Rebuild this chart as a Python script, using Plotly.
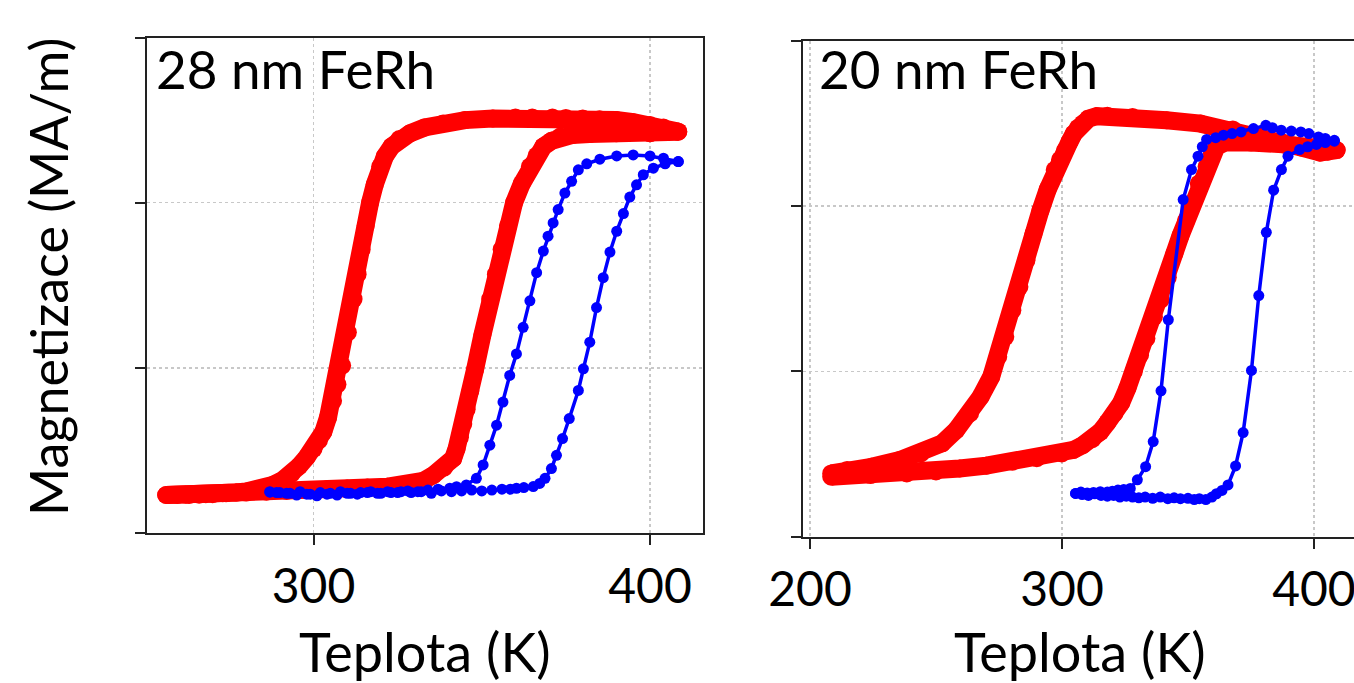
import plotly.graph_objects as go

# ---------------- data ----------------
# 28 nm FeRh, red (dense measurement)
t28_red_cool = [408.4, 404.0, 400.0, 395.0, 390.0, 385.0, 380.0, 375.0, 371.0, 365.0, 360.0, 353.3,
                345.0, 338.5, 333.0, 328.7, 325.5, 323.2, 321.2, 319.8, 318.2, 316.8, 315.5, 314.3,
                313.1, 311.9, 310.2, 308.5, 307.1, 305.8, 304.3, 302.9, 301.6, 300.0, 298.0, 295.7,
                293.5, 290.8, 288.1, 285.5, 283.0, 280.0, 277.0, 273.0, 270.0, 266.0, 263.0, 259.5,
                256.2]
m28_red_cool = [2.43, 2.455, 2.47, 2.487, 2.50, 2.505, 2.51, 2.513, 2.515, 2.516, 2.515, 2.51,
                2.50, 2.48, 2.455, 2.42, 2.385, 2.34, 2.28, 2.219, 2.11, 2.0, 1.86, 1.717,
                1.567, 1.416, 1.215, 1.014, 0.90, 0.80, 0.70, 0.612, 0.56, 0.51, 0.46, 0.405,
                0.36, 0.32, 0.293, 0.272, 0.26, 0.252, 0.245, 0.24, 0.235, 0.232, 0.23, 0.23,
                0.23]
t28_red_heat = [256.2, 262.0, 268.0, 274.0, 280.0, 286.0, 292.0, 298.0, 304.0, 310.0, 316.0, 322.0,
                326.0, 328.7, 332.5, 335.6, 338.8, 341.5, 342.5, 343.5, 344.5, 345.5, 346.6, 348.0,
                350.2, 352.5, 354.2, 355.9, 357.8, 359.6, 361.9, 364.3, 366.3, 368.3, 370.8, 373.3,
                377.0, 382.0, 390.0, 400.0, 408.4]
m28_red_heat = [0.23, 0.232, 0.235, 0.24, 0.245, 0.25, 0.255, 0.26, 0.265, 0.27, 0.275, 0.28,
                0.285, 0.29, 0.315, 0.351, 0.395, 0.452, 0.51, 0.58, 0.66, 0.75, 0.86, 0.99,
                1.2, 1.416, 1.567, 1.717, 1.86, 2.0, 2.115, 2.219, 2.285, 2.34, 2.375, 2.40,
                2.41, 2.415, 2.42, 2.42, 2.43]

# 28 nm FeRh, blue (marker + line)
t28_blue_heat = [287.0, 290.0, 293.0, 296.0, 299.0, 302.0, 305.0, 308.0, 311.0, 314.0, 317.0, 320.0,
                 323.0, 326.0, 329.0, 332.0, 335.0, 338.0, 341.0, 344.0, 347.0, 350.0, 353.0, 356.0,
                 358.5, 360.3, 362.5, 365.3, 367.2, 368.8, 370.7, 372.2, 374.0, 376.0, 378.7, 380.2,
                 382.1, 384.1, 386.1, 388.1, 390.1, 392.1, 394.0, 396.0, 398.0, 401.0, 404.5, 408.4]
m28_blue_heat = [0.25, 0.245, 0.24, 0.25, 0.235, 0.245, 0.24, 0.25, 0.24, 0.245, 0.25, 0.24,
                 0.245, 0.25, 0.245, 0.25, 0.24, 0.255, 0.25, 0.255, 0.26, 0.255, 0.26, 0.265,
                 0.265, 0.271, 0.275, 0.281, 0.30, 0.331, 0.39, 0.47, 0.572, 0.693, 0.863, 0.994,
                 1.155, 1.365, 1.546, 1.701, 1.827, 1.934, 2.034, 2.108, 2.169, 2.209, 2.235, 2.249]
t28_blue_cool = [408.4, 404.0, 400.0, 395.0, 390.1, 385.1, 381.2, 378.7, 376.7, 374.7, 372.7, 371.2,
                 369.7, 368.3, 366.3, 364.3, 362.3, 360.3, 358.3, 356.3, 354.4, 352.4, 350.4, 348.4,
                 345.4, 342.5, 340.5, 337.0, 334.0, 331.0, 328.0, 325.0, 322.0, 319.0, 316.0, 313.0,
                 310.0, 307.0, 304.0, 301.0, 298.0, 295.0, 292.0, 289.0, 287.0]
m28_blue_cool = [2.249, 2.269, 2.283, 2.289, 2.283, 2.263, 2.235, 2.199, 2.129, 2.058, 1.958, 1.877,
                 1.797, 1.707, 1.576, 1.406, 1.245, 1.084, 0.954, 0.793, 0.653, 0.532, 0.412, 0.331,
                 0.291, 0.28, 0.271, 0.265, 0.26, 0.25, 0.255, 0.245, 0.25, 0.24, 0.245, 0.235,
                 0.24, 0.23, 0.235, 0.225, 0.235, 0.23, 0.24, 0.245, 0.247]

# 20 nm FeRh, red
t20_red_cool = [409.0, 405.5, 402.5, 395.0, 387.6, 378.1, 367.8, 355.0, 341.5, 328.0, 318.0, 313.8,
                310.5, 308.2, 306.3, 304.7, 303.0, 301.3, 299.2, 297.1, 294.3, 291.5, 288.7, 285.9,
                283.1, 280.3, 277.5, 274.7, 271.9, 267.7, 263.5, 258.0, 252.4, 244.0, 235.6, 224.4,
                214.7, 208.4]
m20_red_cool = [2.34, 2.33, 2.325, 2.355, 2.386, 2.43, 2.465, 2.50, 2.52, 2.54, 2.548, 2.545,
                2.53, 2.50, 2.475, 2.44, 2.39, 2.34, 2.28, 2.22, 2.10, 1.976, 1.835, 1.673,
                1.512, 1.371, 1.21, 1.089, 0.968, 0.847, 0.746, 0.645, 0.565, 0.504, 0.464, 0.423,
                0.403, 0.383]
t20_red_heat = [208.4, 224.0, 238.4, 250.0, 259.4, 270.0, 280.3, 290.0, 299.9, 304.5, 308.2, 312.0,
                315.2, 318.0, 320.8, 323.5, 326.0, 328.5, 331.0, 333.5, 336.5, 339.2, 342.0, 344.6,
                347.0, 349.3, 351.4, 354.3, 357.4, 359.5, 361.3, 364.5, 368.0, 375.0, 387.6, 400.0,
                409.0]
m20_red_heat = [0.363, 0.373, 0.383, 0.395, 0.413, 0.43, 0.454, 0.475, 0.504, 0.525, 0.554, 0.59,
                0.635, 0.69, 0.746, 0.81, 0.90, 1.0, 1.10, 1.20, 1.331, 1.434, 1.57, 1.714,
                1.82, 1.915, 2.0, 2.137, 2.24, 2.32, 2.36, 2.385, 2.39, 2.385, 2.375, 2.355,
                2.34]

# 20 nm FeRh, blue
t20_blue_cool = [408.1, 404.5, 401.8, 398.0, 394.8, 391.0, 387.0, 383.5, 380.9, 376.0, 371.1, 367.5,
                 364.1, 361.0, 357.4, 355.7, 354.0, 351.4, 348.1, 342.2, 339.3, 336.2, 333.2, 329.9,
                 327.1, 324.5, 322.2, 320.0, 318.0, 315.2, 312.5, 310.0, 307.5, 305.4]
m20_blue_cool = [2.399, 2.41, 2.419, 2.44, 2.45, 2.455, 2.46, 2.475, 2.49, 2.47, 2.45, 2.44,
                 2.43, 2.415, 2.404, 2.36, 2.303, 2.222, 2.04, 1.313, 0.883, 0.576, 0.424, 0.344,
                 0.292, 0.285, 0.282, 0.275, 0.27, 0.272, 0.268, 0.265, 0.27, 0.262]
t20_blue_heat = [305.4, 308.0, 310.5, 313.0, 315.5, 318.0, 320.5, 323.0, 325.5, 328.0, 330.5, 333.0,
                 336.0, 339.0, 342.0, 344.5, 347.0, 350.0, 352.5, 354.5, 357.1, 359.5, 361.3, 363.5,
                 365.9, 368.9, 371.9, 375.2, 378.1, 381.1, 384.0, 387.1, 389.7, 394.3, 397.5, 401.0,
                 404.5, 408.1]
m20_blue_heat = [0.262, 0.255, 0.25, 0.26, 0.25, 0.245, 0.25, 0.24, 0.245, 0.24, 0.235, 0.24,
                 0.232, 0.24, 0.23, 0.235, 0.23, 0.232, 0.225, 0.23, 0.225, 0.24, 0.26, 0.28,
                 0.313, 0.428, 0.63, 1.006, 1.459, 1.842, 2.097, 2.222, 2.303, 2.343, 2.36, 2.374,
                 2.385, 2.394]

x_ticks_28 = [300, 400]
x_ticks_20 = [200, 300, 400]
y_ticks = [0, 1, 2, 3]
panel_labels = ["28 nm FeRh", "20 nm FeRh"]
x_title = "Teplota (K)"
y_title = "Magnetizace (MA/m)"

# ---------------- figure ----------------
W, H = 1354, 683
RED = "#ff0000"
BLUE = "#0000ff"
FONT = "Lato"
AX = "#222222"
GRID = "#c8c8c8"


def red_trace(x, y, xa, ya):
    return go.Scatter(x=x, y=y, xaxis=xa, yaxis=ya, mode="lines+markers",
                      line=dict(color=RED, width=18),
                      marker=dict(color=RED, size=18, line=dict(width=0)),
                      hoverinfo="skip", showlegend=False)


def blue_trace(x, y, xa, ya):
    return go.Scatter(x=x, y=y, xaxis=xa, yaxis=ya, mode="lines+markers",
                      line=dict(color=BLUE, width=3.5),
                      marker=dict(color=BLUE, size=11, line=dict(width=0)),
                      hoverinfo="skip", showlegend=False)


fig = go.Figure()
fig.add_trace(red_trace(t28_red_cool, m28_red_cool, "x", "y"))
fig.add_trace(red_trace(t28_red_heat, m28_red_heat, "x", "y"))
fig.add_trace(blue_trace(t28_blue_heat, m28_blue_heat, "x", "y"))
fig.add_trace(blue_trace(t28_blue_cool, m28_blue_cool, "x", "y"))
fig.add_trace(red_trace(t20_red_cool, m20_red_cool, "x2", "y2"))
fig.add_trace(red_trace(t20_red_heat, m20_red_heat, "x2", "y2"))
fig.add_trace(blue_trace(t20_blue_heat, m20_blue_heat, "x2", "y2"))
fig.add_trace(blue_trace(t20_blue_cool, m20_blue_cool, "x2", "y2"))


def xax(domain, rng, ticks, anchor):
    return dict(domain=domain, range=rng, tickvals=ticks, anchor=anchor,
                ticks="outside", ticklen=10, tickwidth=2, tickcolor=AX,
                showline=True, linecolor=AX, linewidth=2, mirror=True,
                showgrid=True, gridcolor=GRID, griddash="dot", gridwidth=1.5,
                zeroline=False, tickfont=dict(family=FONT, size=48, color="black"),
                automargin=False, ticklabeloverflow="allow", fixedrange=True)


def yax(domain, anchor, mirror):
    return dict(domain=domain, range=[0, 3], tickvals=y_ticks, anchor=anchor,
                showticklabels=False, ticks="outside", ticklen=10, tickwidth=2, tickcolor=AX,
                showline=True, linecolor=AX, linewidth=2, mirror=mirror,
                showgrid=True, gridcolor=GRID, griddash="dot", gridwidth=1.5,
                zeroline=False, automargin=False, fixedrange=True)


fig.update_layout(
    width=W, height=H,
    margin=dict(l=0, r=0, t=0, b=0, pad=0),
    paper_bgcolor="white", plot_bgcolor="white",
    xaxis=xax([147 / W, 703 / W], [250.5, 415.75], x_ticks_28, "y"),
    yaxis=yax([1 - 533 / H, 1 - 37.5 / H], "x", True),
    xaxis2=xax([803 / W, 1.0], [197.2, 415.9], x_ticks_20, "y2"),
    yaxis2=yax([1 - 536.7 / H, 1 - 41 / H], "x2", False),
    font=dict(family=FONT, color="black"),
    annotations=[
        dict(text=panel_labels[0], x=154 / W, y=1 - 68 / H, xref="paper", yref="paper",
             xanchor="left", yanchor="middle", showarrow=False,
             font=dict(family=FONT, size=53, color="black")),
        dict(text=panel_labels[1], x=817 / W, y=1 - 68 / H, xref="paper", yref="paper",
             xanchor="left", yanchor="middle", showarrow=False,
             font=dict(family=FONT, size=53, color="black")),
        dict(text=x_title, x=425 / W, y=1 - 651 / H, xref="paper", yref="paper",
             xanchor="center", yanchor="middle", showarrow=False,
             font=dict(family=FONT, size=54, color="black")),
        dict(text=x_title, x=1080 / W, y=1 - 651 / H, xref="paper", yref="paper",
             xanchor="center", yanchor="middle", showarrow=False,
             font=dict(family=FONT, size=54, color="black")),
        dict(text=y_title, x=48 / W, y=1 - 277 / H, xref="paper", yref="paper",
             xanchor="center", yanchor="middle", showarrow=False, textangle=-90,
             font=dict(family=FONT, size=52, color="black")),
    ],
)

fig.write_html("out.html", config={"displayModeBar": False, "staticPlot": True},
               post_script="document.body.style.margin='0';document.body.style.overflow='hidden';")
